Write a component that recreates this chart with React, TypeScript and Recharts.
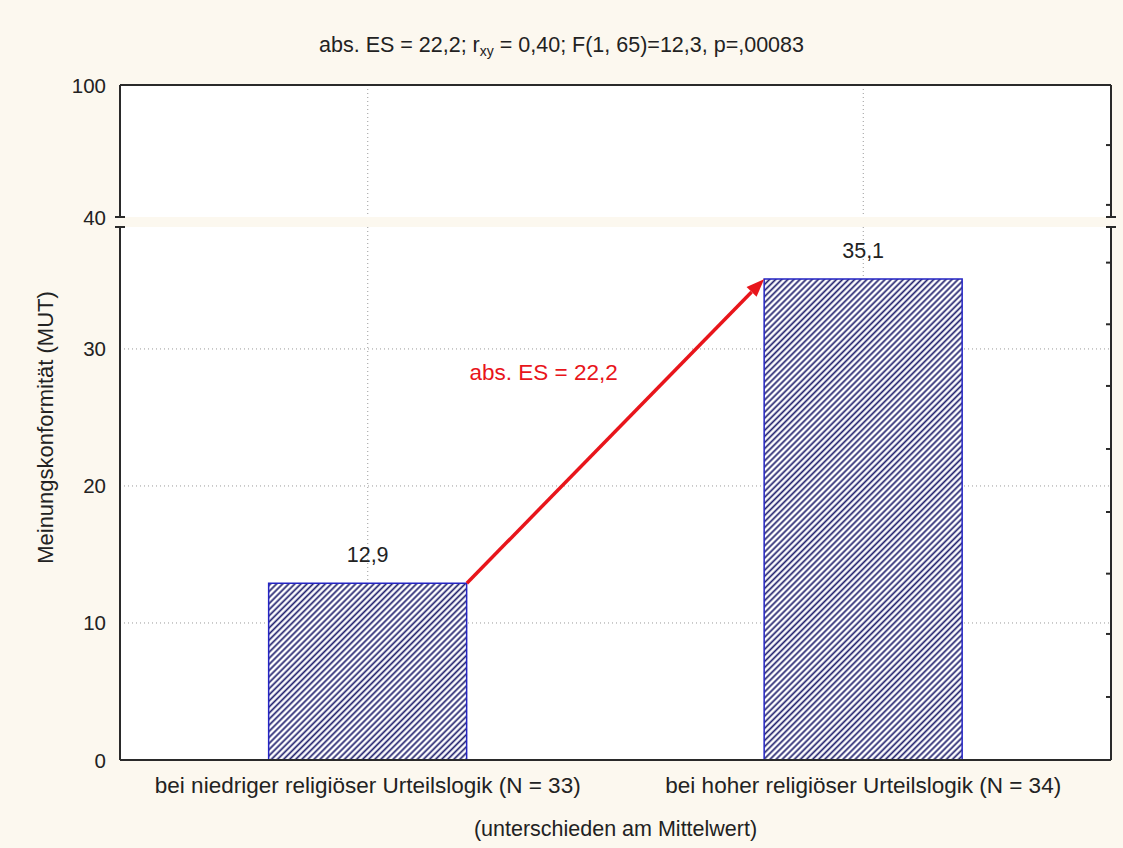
import React from "react";
import {
  ComposedChart,
  Bar,
  XAxis,
  YAxis,
  CartesianGrid,
  ReferenceLine,
  LabelList,
} from "recharts";

// values
const categories = [
  "bei niedriger religiöser Urteilslogik (N = 33)",
  "bei hoher religiöser Urteilslogik (N = 34)",
];
const means = [12.9, 35.1];
const upperDomain = [40, 100];
const upperTicks = [40, 100];
const lowerTop = 38.9;
const lowerTicks = [0, 10, 20, 30];
const gridValues = [10, 20, 30];
const upperRightTicks = [45.5, 72.7];
const lowerRightTicks = [4.6, 9.2, 13.6, 18.1, 22.7, 27.3, 31.8, 36.3];
const effectLabel = "abs. ES = 22,2";
// label spot: share of the way from the first to the second category, and a y value
const effectLabelAt = { along: 0.355, value: 28.25 };
const yLabel = "Meinungskonformität (MUT)";
const xLabel = "(unterschieden am Mittelwert)";

const data = categories.map((name, i) => ({ name, mean: means[i] }));

const W = 1123;
const H = 848;
const LEFT_AXIS_W = 120;
const RIGHT_AXIS_W = 12;
const UPPER_TOP = 85;
const BREAK_TOP = 217;
const LOWER_TOP = 227;
const X_AXIS_H = 88;
const GAP = 0.3; // barCategoryGap as a fraction

const FONT = '"Liberation Sans", Arial, sans-serif';
const TEXT = "#222";
const AXIS = "#2a2a2a";
const RED = "#e8151b";
const BG = "#fcf8ef";

const axisLine = { stroke: AXIS, strokeWidth: 2 };
const fmt = (v: number) => v.toFixed(1).replace(".", ",");

function LeftTick(props: any) {
  const { x, y, payload, breakValue, noLabel } = props;
  const v = payload.value;
  return (
    <g>
      {v === breakValue && (
        <line x1={x - 5} x2={x + 5} y1={y} y2={y} stroke={AXIS} strokeWidth={2} />
      )}
      {!(noLabel && v === breakValue) && (
        <text
          x={x - 14}
          y={y}
          textAnchor="end"
          dominantBaseline="central"
          fontSize={20.5}
          fontFamily={FONT}
          fill={TEXT}
        >
          {v}
        </text>
      )}
    </g>
  );
}

function RightTick(props: any) {
  const { x, y, payload, breakValue } = props;
  const isBreak = payload.value === breakValue;
  return (
    <line
      x1={x - 5}
      x2={isBreak ? x + 5 : x}
      y1={y}
      y2={y}
      stroke={AXIS}
      strokeWidth={2}
    />
  );
}

const NoTick = () => <g />;

const barHalf = (1 - 2 * GAP) / 2;

// gets the two category centres at the two means; runs corner to corner of the bars
function Arrow(p: any) {
  const band = p.x2 - p.x1;
  const x1 = p.x1 + band * barHalf;
  const x2 = p.x2 - band * barHalf;
  const y1 = p.y1;
  const y2 = p.y2;
  const ang = Math.atan2(y2 - y1, x2 - x1);
  const len = 18;
  const half = 7;
  const bx = x2 - len * Math.cos(ang);
  const by = y2 - len * Math.sin(ang);
  const nx = -Math.sin(ang);
  const ny = Math.cos(ang);
  const pxPerUnit = (y1 - y2) / (means[1] - means[0]);
  const lx = p.x1 + band * effectLabelAt.along;
  const ly = y1 - (effectLabelAt.value - means[0]) * pxPerUnit;
  return (
    <g>
      <line x1={x1} y1={y1} x2={bx} y2={by} stroke={RED} strokeWidth={3.5} />
      <polygon
        points={`${x2},${y2} ${bx + nx * half},${by + ny * half} ${bx - nx * half},${by - ny * half}`}
        fill={RED}
      />
      <text
        x={lx}
        y={ly}
        textAnchor="middle"
        dominantBaseline="central"
        fontSize={22.5}
        fontFamily={FONT}
        fill={RED}
      >
        {effectLabel}
      </text>
    </g>
  );
}

function YLabel(props: any) {
  const vb = props.viewBox || {};
  const cy = (UPPER_TOP + vb.y + vb.height) / 2 + 5;
  const cx = 45;
  return (
    <text
      x={cx}
      y={cy}
      transform={`rotate(-90, ${cx}, ${cy})`}
      textAnchor="middle"
      dominantBaseline="central"
      fontSize={22}
      fontFamily={FONT}
      fill={TEXT}
    >
      {yLabel}
    </text>
  );
}

const arrowSegment = [
  { x: categories[0], y: means[0] },
  { x: categories[1], y: means[1] },
];

export default function App() {
  return (
    <div
      style={{
        position: "absolute",
        left: 0,
        top: 0,
        width: W,
        height: H,
        background: BG,
        overflow: "hidden",
        fontFamily: FONT,
      }}
    >
      <div
        style={{
          position: "absolute",
          top: 32,
          left: 0,
          width: W,
          textAlign: "center",
          fontSize: 21.5,
          lineHeight: "26px",
          color: TEXT,
        }}
      >
        abs. ES = 22,2; r
        <sub style={{ fontSize: 14, verticalAlign: "-4px" }}>xy</sub> = 0,40; F(1, 65)=12,3,
        p=,00083
      </div>

      {/* lower part 0..~39 */}
      <div style={{ position: "absolute", left: 0, top: 0 }}>
        <ComposedChart
          width={W}
          height={H}
          data={data}
          barCategoryGap={`${GAP * 100}%`}
          margin={{ top: LOWER_TOP, right: 0, bottom: 0, left: 0 }}
        >
          <defs>
            <pattern
              id="hatch"
              patternUnits="userSpaceOnUse"
              width={4.3}
              height={4.3}
              patternTransform="rotate(45)"
            >
              <rect width={4.3} height={4.3} fill="#fff" />
              <line x1={2.15} y1={0} x2={2.15} y2={4.3} stroke="#22226e" strokeWidth={1.7} />
            </pattern>
          </defs>
          <CartesianGrid
            xAxisId="cat"
            yAxisId="left"
            fill="#fff"
            fillOpacity={1}
            stroke="#9a9a9a"
            strokeDasharray="1 3"
            horizontalValues={gridValues}
          />
          <XAxis
            xAxisId="cat"
            dataKey="name"
            height={X_AXIS_H}
            interval={0}
            tickLine={false}
            tickSize={0}
            tickMargin={17}
            tick={{ fill: TEXT, fontSize: 22.5, fontFamily: FONT }}
            axisLine={axisLine}
            label={{
              value: xLabel,
              position: "insideBottom",
              offset: 12,
              fill: TEXT,
              fontSize: 21.5,
              fontFamily: FONT,
            }}
          />
          <YAxis
            yAxisId="left"
            width={LEFT_AXIS_W}
            domain={[0, lowerTop]}
            allowDataOverflow
            ticks={[...lowerTicks, lowerTop]}
            interval={0}
            tickLine={false}
            tickSize={0}
            tickMargin={0}
            axisLine={axisLine}
            tick={<LeftTick breakValue={lowerTop} noLabel />}
            label={{ content: <YLabel /> }}
          />
          <YAxis
            yAxisId="right"
            orientation="right"
            width={RIGHT_AXIS_W}
            domain={[0, lowerTop]}
            allowDataOverflow
            ticks={[...lowerRightTicks, lowerTop]}
            interval={0}
            tickLine={false}
            tickSize={0}
            tickMargin={0}
            axisLine={axisLine}
            tick={<RightTick breakValue={lowerTop} />}
          />
          <Bar
            xAxisId="cat"
            yAxisId="left"
            dataKey="mean"
            fill="url(#hatch)"
            stroke="#2424c4"
            strokeWidth={1.5}
            isAnimationActive={false}
          >
            <LabelList
              dataKey="mean"
              position="top"
              offset={21}
              formatter={(v: any) => fmt(Number(v))}
              fill={TEXT}
              fontSize={21.5}
              fontFamily={FONT}
            />
          </Bar>
          <ReferenceLine
            xAxisId="cat"
            yAxisId="left"
            segment={arrowSegment}
            ifOverflow="visible"
            shape={Arrow}
          />
        </ComposedChart>
      </div>

      {/* upper part 40..100; the bars lie below its range, so nothing shows here */}
      <div style={{ position: "absolute", left: 0, top: 0 }}>
        <ComposedChart
          width={W}
          height={BREAK_TOP + 14}
          data={data}
          barCategoryGap={`${GAP * 100}%`}
          margin={{ top: UPPER_TOP - 1, right: 0, bottom: 14, left: 0 }}
        >
          <CartesianGrid
            xAxisId="cat"
            yAxisId="left"
            fill="#fff"
            fillOpacity={1}
            stroke="#9a9a9a"
            strokeDasharray="1 3"
            horizontal={false}
          />
          <XAxis
            xAxisId="cat"
            dataKey="name"
            orientation="top"
            height={1}
            interval={0}
            tick={NoTick}
            tickLine={false}
            axisLine={axisLine}
          />
          <YAxis
            yAxisId="left"
            width={LEFT_AXIS_W}
            domain={upperDomain}
            allowDataOverflow
            ticks={upperTicks}
            interval={0}
            tickLine={false}
            tickSize={0}
            tickMargin={0}
            axisLine={axisLine}
            tick={<LeftTick breakValue={upperDomain[0]} />}
          />
          <YAxis
            yAxisId="right"
            orientation="right"
            width={RIGHT_AXIS_W}
            domain={upperDomain}
            allowDataOverflow
            ticks={[upperDomain[0], ...upperRightTicks]}
            interval={0}
            tickLine={false}
            tickSize={0}
            tickMargin={0}
            axisLine={axisLine}
            tick={<RightTick breakValue={upperDomain[0]} />}
          />
          <Bar
            xAxisId="cat"
            yAxisId="left"
            dataKey="mean"
            fill="none"
            stroke="none"
            isAnimationActive={false}
          />
        </ComposedChart>
      </div>
    </div>
  );
}
